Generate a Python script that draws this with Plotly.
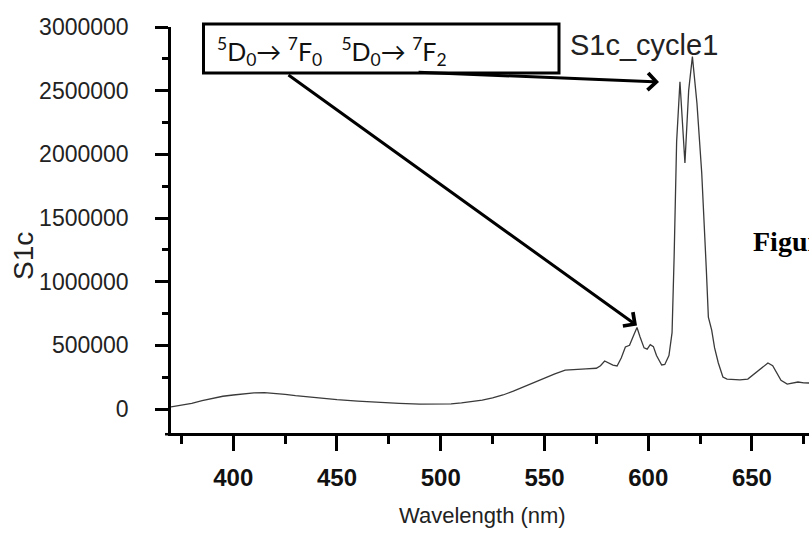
import plotly.graph_objects as go

# Emission spectrum
wavelength = [370, 375, 380, 385, 390, 395, 400, 405, 410, 415, 420, 425, 430, 440, 450,
              460, 470, 480, 490, 500, 505, 510, 515, 520, 525, 530, 535, 540, 545, 550,
              555, 560, 565, 570, 575, 577, 579, 581, 583, 585, 587, 589, 591, 593, 594.6,
              596, 598, 599.5, 601, 602.5, 604, 606.5, 608, 610, 611.5, 612.5, 613.7, 615.3,
              617.7, 619.5, 621.3, 623.5, 625.8, 628, 629, 630.6, 632, 633.8, 636, 638,
              644.2, 648, 652, 655, 657.7, 660, 662, 664, 667, 670, 672.2, 675, 677.5]
intensity = [16000, 30000, 45000, 65000, 85000, 100000, 110000, 120000, 127000, 128000,
             123000, 115000, 105000, 88000, 73000, 62000, 52000, 44000, 38000, 37000,
             40000, 48000, 58000, 70000, 88000, 110000, 140000, 175000, 210000, 245000,
             275000, 305000, 312000, 315000, 320000, 340000, 377000, 360000, 345000, 338000,
             400000, 487000, 500000, 580000, 640000, 570000, 480000, 470000, 505000, 490000,
             420000, 346000, 350000, 420000, 600000, 1200000, 2100000, 2570000, 1932000,
             2500000, 2767000, 2400000, 1853000, 1100000, 722000, 620000, 480000, 361000,
             251000, 235000, 228000, 235000, 290000, 330000, 361000, 340000, 280000, 225000,
             196000, 205000, 212000, 205000, 204000]

y_ticks = [0, 500000, 1000000, 1500000, 2000000, 2500000, 3000000]
x_ticks = [400, 450, 500, 550, 600, 650]
x_range = [370, 677.5]
y_range = [-188500, 3000000]

series_name = "S1c_cycle1"
box_text = ("<sup>5</sup>D<sub>0</sub>\u2192\u00a0<sup>7</sup>F<sub>0</sub>\u00a0\u00a0\u00a0"
            "<sup>5</sup>D<sub>0</sub>\u2192\u00a0<sup>7</sup>F<sub>2</sub>")

# arrow endpoints (data coords): tail -> tip
arrow1 = dict(tail=(425.9, 2631000), tip=(594.6, 655000))
arrow2 = dict(tail=(488.6, 2646000), tip=(605.2, 2568000))

fig = go.Figure()
fig.add_trace(go.Scatter(x=wavelength, y=intensity, mode="lines",
                         line=dict(color="#3a3a3a", width=1.3),
                         name=series_name, showlegend=False))

W, H = 809, 538
ml, mr, mt, mb = 171, 0, 27, 105
pw, ph = W - ml - mr, H - mt - mb

def px(x):
    return (x - ml) / pw

def py(y):
    return (H - mb - y) / ph

fig.update_layout(
    width=W, height=H,
    margin=dict(l=ml, r=mr, t=mt, b=mb, pad=0),
    paper_bgcolor="white", plot_bgcolor="white",
    font=dict(family="Liberation Sans, Arial, sans-serif", color="#222222"),
    xaxis=dict(range=x_range, tickvals=x_ticks, ticks="outside", ticklen=15,
               tickwidth=2.5, tickcolor="black", showline=True, linecolor="black",
               linewidth=2.5, showgrid=False, zeroline=False,
               tickfont=dict(size=24, family="Liberation Sans, Arial", color="#111111",
                             weight="bold"),
               ticklabelstandoff=6,
               minor=dict(dtick=25, tick0=0, ticks="outside", ticklen=8,
                          tickwidth=2.5, tickcolor="black", showgrid=False)),
    yaxis=dict(range=y_range, tickvals=y_ticks, tickformat="d", ticks="outside",
               ticklen=13, tickwidth=2.5, tickcolor="black", showline=True,
               linecolor="black", linewidth=2.5, showgrid=False, zeroline=False,
               tickfont=dict(size=23, color="#222222"),
               ticklabelstandoff=22,
               minor=dict(dtick=250000, tick0=0, ticks="outside", ticklen=6,
                          tickwidth=2.5, tickcolor="black", showgrid=False)),
)

# x-axis line extends slightly left of the y axis
fig.add_shape(type="line", xref="paper", yref="paper", x0=px(165), x1=0, y0=-0.003, y1=-0.003,
              line=dict(color="black", width=2.5))

# annotation box
fig.add_shape(type="rect", xref="paper", yref="paper",
              x0=px(203.5), x1=px(559), y0=py(73), y1=py(24),
              line=dict(color="black", width=3), fillcolor="white", layer="above")

annotations = [
    dict(text=box_text, xref="paper", yref="paper", x=px(215), y=py(51),
         xanchor="left", yanchor="middle", showarrow=False,
         font=dict(family="Lato, Liberation Sans", size=25, color="#111111")),
    dict(text=series_name, xref="paper", yref="paper", x=px(568), y=py(45),
         xanchor="left", yanchor="middle", showarrow=False,
         font=dict(size=29, color="#222222")),
    dict(text="Figure 1", xref="paper", yref="paper", x=px(751), y=py(241),
         xanchor="left", yanchor="middle", showarrow=False,
         font=dict(family="Liberation Serif, Times New Roman, serif", size=28,
                   color="black", weight="bold")),
    dict(text="Wavelength (nm)", xref="paper", yref="paper", x=px(482), y=py(515),
         xanchor="center", yanchor="middle", showarrow=False,
         font=dict(size=22, color="#222222")),
    dict(text="S1c", xref="paper", yref="paper", x=px(23), y=py(256),
         xanchor="center", yanchor="middle", showarrow=False, textangle=-90,
         font=dict(size=28, color="#222222")),
]
for a in (arrow1, arrow2):
    annotations.append(dict(x=a["tip"][0], y=a["tip"][1], ax=a["tail"][0], ay=a["tail"][1],
                            xref="x", yref="y", axref="x", ayref="y", text="",
                            showarrow=True, arrowhead=4, arrowsize=1.1, arrowwidth=3,
                            arrowcolor="black", standoff=0))
fig.update_layout(annotations=annotations)

fig.write_html("out.html", config={"displayModeBar": False},
               post_script="document.body.style.margin='0px';document.body.style.overflow='hidden';")
